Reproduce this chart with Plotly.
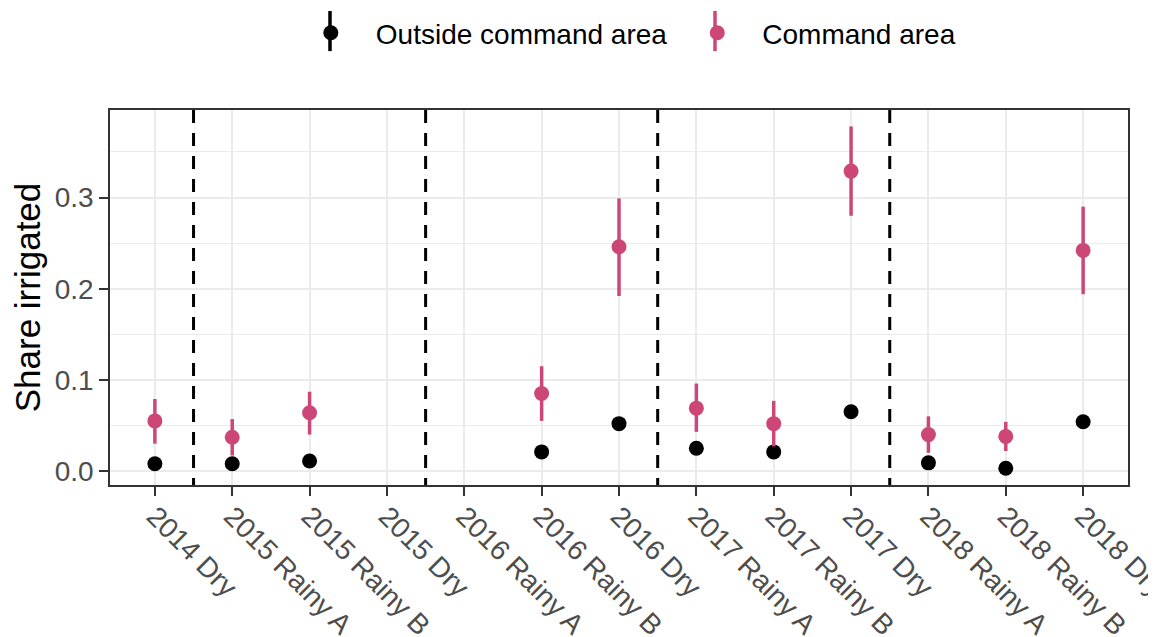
import plotly.graph_objects as go

categories = ["2014 Dry", "2015 Rainy A", "2015 Rainy B", "2015 Dry",
              "2016 Rainy A", "2016 Rainy B", "2016 Dry",
              "2017 Rainy A", "2017 Rainy B", "2017 Dry",
              "2018 Rainy A", "2018 Rainy B", "2018 Dry"]

outside_vals = [0.008, 0.008, 0.011, None, None, 0.021, 0.052,
                0.025, 0.021, 0.065, 0.009, 0.003, 0.054]

command_vals = [0.055, 0.037, 0.064, None, None, 0.085, 0.246,
                0.069, 0.052, 0.329, 0.040, 0.038, 0.242]
command_low = [0.030, 0.017, 0.040, None, None, 0.055, 0.192,
               0.043, 0.027, 0.280, 0.020, 0.022, 0.194]
command_high = [0.079, 0.057, 0.087, None, None, 0.115, 0.299,
                0.096, 0.077, 0.378, 0.060, 0.054, 0.290]

season_breaks = [0.5, 3.5, 6.5, 9.5]
y_ticks = [0.0, 0.1, 0.2, 0.3]
y_tick_text = ["0.0", "0.1", "0.2", "0.3"]

BLACK = "#000000"
PINK = "#CC4778"
FONT = "Liberation Sans, Arial, sans-serif"


def keep(xs, ys):
    return [x for x, y in zip(xs, ys) if y is not None], [y for y in ys if y is not None]


ox, oy = keep(categories, outside_vals)
cx, cy = keep(categories, command_vals)
_, clo = keep(categories, command_low)
_, chi = keep(categories, command_high)

fig = go.Figure()
fig.add_trace(go.Scatter(
    x=ox, y=oy, mode="markers", name="Outside command area",
    marker=dict(color=BLACK, size=15),
))
fig.add_trace(go.Scatter(
    x=cx, y=cy, mode="markers", name="Command area",
    marker=dict(color=PINK, size=15),
    error_y=dict(type="data", symmetric=False,
                 array=[h - v for h, v in zip(chi, cy)],
                 arrayminus=[v - l for v, l in zip(cy, clo)],
                 color=PINK, thickness=3.5, width=0),
))

for b in season_breaks:
    fig.add_shape(type="line", xref="x", yref="paper", x0=b, x1=b, y0=1, y1=0,
                  line=dict(color="black", width=3, dash="13px,10px"), layer="above")

# legend key vertical strokes (pointrange glyph)
for xp, col in [(0.2161, BLACK), (0.5943, PINK)]:
    fig.add_shape(type="line", xref="paper", yref="paper", x0=xp, x1=xp,
                  y0=1.157, y1=1.264, line=dict(color=col, width=3.5), layer="above")

fig.update_layout(
    width=1148, height=629,
    margin=dict(l=102, r=28, t=102, b=152),
    paper_bgcolor="white", plot_bgcolor="white",
    font=dict(family=FONT, color="black"),
    showlegend=True,
    legend=dict(orientation="h", xref="container", x=0.536, xanchor="center",
                yref="container", y=1.0, yanchor="top",
                font=dict(size=28, color="black"), itemwidth=80,
                bgcolor="rgba(0,0,0,0)"),
)

fig.update_xaxes(
    type="category", categoryorder="array", categoryarray=categories,
    range=[-0.58, 12.58], tickangle=45,
    tickfont=dict(size=28, color="#4D4D4D", family=FONT),
    ticklabelstandoff=-7,
    showgrid=True, gridcolor="#EBEBEB", gridwidth=2,
    showline=True, linecolor="#333333", linewidth=1.5, mirror=True,
    ticks="outside", ticklen=9, tickwidth=2, tickcolor="#333333",
    automargin=False, zeroline=False,
)
fig.update_yaxes(
    range=[-0.0153, 0.396], tickvals=y_ticks, ticktext=y_tick_text,
    tickfont=dict(size=28, color="#4D4D4D", family=FONT),
    showgrid=True, gridcolor="#EBEBEB", gridwidth=2,
    minor=dict(showgrid=True, gridcolor="#EBEBEB", gridwidth=1.2,
               tickvals=[0.05, 0.15, 0.25, 0.35], ticks=""),
    showline=True, linecolor="#333333", linewidth=1.5, mirror=True,
    ticks="outside", ticklen=9, tickwidth=2, tickcolor="#333333",
    zeroline=False, automargin=False,
    title=dict(text="Share irrigated", font=dict(size=35, color="black", family=FONT),
               standoff=20),
)

fig.write_html("out.html")
